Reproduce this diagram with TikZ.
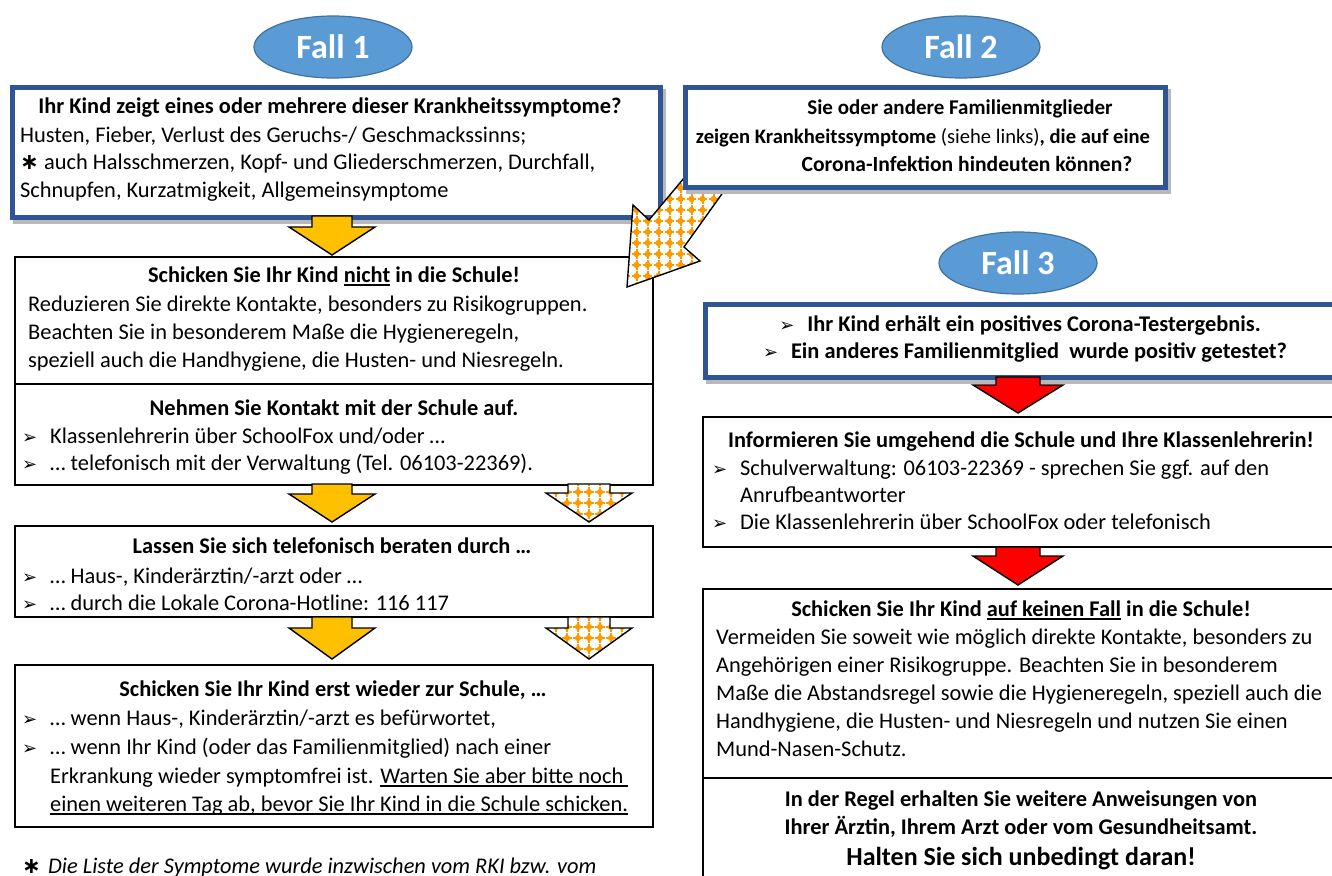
\documentclass[tikz,border=0pt]{standalone}
\usepackage{fontspec}
\setmainfont{Carlito}
\newfontfamily\dejavu{DejaVu Sans}
\usetikzlibrary{shapes.geometric}
\definecolor{bluebord}{RGB}{47,85,151}
\definecolor{ellfill}{RGB}{91,155,213}
\definecolor{elldraw}{RGB}{65,113,156}
\definecolor{gold}{RGB}{255,192,0}
\definecolor{dotorange}{RGB}{255,153,0}
\newcommand\myul[1]{\sbox0{#1}\rlap{\rule[-3.8pt]{\wd0}{1.5pt}}\usebox0}
\newcommand\bul{\makebox[28pt][l]{\dejavu\fontsize{18}{18}\selectfont ➢}}
\newcommand\mystar{{\dejavu\bfseries ∗}}
\tikzset{
  txt/.style={font=\fontsize{22.4}{28}\selectfont, inner sep=0, anchor=base west},
  ttl/.style={font=\fontsize{22.4}{28}\selectfont\bfseries, inner sep=0, anchor=base},
  ctr/.style={font=\fontsize{22.4}{28}\selectfont, inner sep=0, anchor=base},
  plainbox/.style={draw=black, line width=1.6, fill=white, anchor=north west, inner sep=0},
  bluebox/.style={draw=bluebord, line width=4.5, fill=white, anchor=north west, inner sep=0,
    preaction={draw=black!28, fill=black!28, line width=4.5, transform canvas={xshift=3pt,yshift=-4pt}}},
  fallell/.style={ellipse, draw=elldraw, line width=1.2, fill=ellfill, text=white,
    font=\fontsize{34}{34}\selectfont\bfseries, minimum width=158, minimum height=62, inner sep=0},
  yarrow/.style={draw=black, line width=1.4, fill=gold},
  rarrow/.style={draw=black, line width=1.4, fill=red},
  checker/.style={draw=black, line width=1.4, fill=white,
    path picture={\begin{scope}[shift={(path picture bounding box.center)}]
      \foreach \i in {-7,...,7}{\foreach \j in {-7,...,7}{
        \fill[dotorange] (\i*11,\j*11) circle (3.1);
        \fill[dotorange] (\i*11-4.8,\j*11-1) rectangle (\i*11+4.8,\j*11+1);
        \fill[dotorange] (\i*11-1,\j*11-4.8) rectangle (\i*11+1,\j*11+4.8);}}
      \end{scope}}},
  pics/darrow/.style n args={4}{code={\path[pic actions] (-#1,0) -- (#1,0) -- (#1,#3) -- (#2,#3) -- (0,#4) -- (-#2,#3) -- (-#1,#3) -- cycle;}}
}
\begin{document}
\begin{tikzpicture}[x=1pt,y=-1pt]
\path[use as bounding box] (0,0) rectangle (1332,875);
\clip (0,0) rectangle (1332,875);
\fill[white] (0,0) rectangle (1332,875);

% ellipses
\node[fallell] (f1) at (333,47) {Fall 1};
\node[fallell] (f2) at (961,47) {Fall 2};
\node[fallell] (f3) at (1018,263) {Fall 3};

% left column boxes
\node[bluebox, minimum width=648, minimum height=130] (b1) at (10,85) {};
\node[plainbox, minimum width=638, minimum height=127] (b3) at (14,256) {};
\node[plainbox, minimum width=638, minimum height=101] (b4) at (14,383) {};
\node[plainbox, minimum width=638, minimum height=91] (b5) at (14,525) {};
\node[plainbox, minimum width=638, minimum height=162] (b6) at (14,664) {};

% right column boxes
\node[bluebox, minimum width=642, minimum height=73] (b7) at (703,302) {};
\node[plainbox, minimum width=643, minimum height=130] (b8) at (702,416) {};
\node[plainbox, minimum width=643, minimum height=189] (b9) at (702,588) {};
\node[plainbox, minimum width=643, minimum height=113] (b10) at (702,777) {};

% block arrows
\pic[yarrow] at (332,216) {darrow={20}{43}{11}{39}};
\pic[yarrow] at (332,484) {darrow={20}{43}{10}{38}};
\pic[yarrow] at (332,617) {darrow={20}{43}{11}{42}};
\pic[checker] at (589,484) {darrow={21}{43}{9}{38}};
\pic[checker] at (589,617) {darrow={21}{43}{11}{42}};
\pic[rarrow] at (1018,377) {darrow={22}{45}{8}{36}};
\pic[rarrow] at (1018,547) {darrow={22}{45}{9}{38}};

% big diagonal arrow
\draw[checker, line join=miter] (684,178) -- (734,177) -- (684,247) -- (700,261) -- (627,287) -- (633,205) -- (649,220) -- cycle;

% Fall 2 box
\node[bluebox, minimum width=480, minimum height=100] (b2) at (683,85) {};

% texts box 1
\node[ttl] (t1a) at (330,113) {Ihr Kind zeigt eines oder mehrere dieser Krankheitssymptome?};
\node[txt] (t1b) at (20,142) {Husten, Fieber, Verlust des Geruchs-/ Geschmackssinns;};
\node[txt] (t1c) at (20,169) {\makebox[24pt][l]{\mystar}auch Halsschmerzen, Kopf- und Gliederschmerzen, Durchfall,};
\node[txt] (t1d) at (20,197) {Schnupfen, Kurzatmigkeit, Allgemeinsymptome};

% texts box 2
\node[ttl, font=\fontsize{21}{28}\selectfont\bfseries] (t2a) at (960,114) {Sie oder andere Familienmitglieder};
\node[ctr, font=\fontsize{20.6}{28}\selectfont] (t2b) at (923,143) {\textbf{zeigen Krankheitssymptome} (siehe links)\textbf{, die auf eine}};
\node[ttl, font=\fontsize{21.6}{28}\selectfont\bfseries] (t2c) at (967,171) {Corona-Infektion hindeuten können?};

% box 3
\node[ttl] (t3a) at (334,282) {Schicken Sie Ihr Kind \myul{nicht} in die Schule!};
\node[txt] (t3b) at (28,311) {Reduzieren Sie direkte Kontakte, besonders zu Risikogruppen.};
\node[txt] (t3c) at (28,339) {Beachten Sie in besonderem Maße die Hygieneregeln,};
\node[txt] (t3d) at (28,367) {speziell auch die Handhygiene, die Husten- und Niesregeln.};

% box 4
\node[ttl] (t4a) at (334,415) {Nehmen Sie Kontakt mit der Schule auf.};
\node[txt] (t4b) at (22,443) {\bul Klassenlehrerin über SchoolFox und/oder …};
\node[txt] (t4c) at (22,470) {\bul … telefonisch mit der Verwaltung (Tel. 06103-22369).};

% box 5
\node[ttl] (t5a) at (332,553) {Lassen Sie sich telefonisch beraten durch …};
\node[txt] (t5b) at (22,583) {\bul … Haus-, Kinderärztin/-arzt oder …};
\node[txt] (t5c) at (22,610) {\bul … durch die Lokale Corona-Hotline: 116 117};

% box 6
\node[ttl] (t6a) at (333,696) {Schicken Sie Ihr Kind erst wieder zur Schule, …};
\node[txt] (t6b) at (22,725) {\bul … wenn Haus-, Kinderärztin/-arzt es befürwortet,};
\node[txt] (t6c) at (22,754) {\bul … wenn Ihr Kind (oder das Familienmitglied) nach einer};
\node[txt] (t6d) at (50,783) {Erkrankung wieder symptomfrei ist. \myul{Warten Sie aber bitte noch\ }};
\node[txt] (t6e) at (50,811) {\myul{einen weiteren Tag ab, bevor Sie Ihr Kind in die Schule schicken.}};

% footnote
\node[txt, font=\fontsize{22.4}{28}\selectfont\itshape] (fn) at (22,873) {\makebox[26pt][l]{\upshape\mystar}Die Liste der Symptome wurde inzwischen vom RKI bzw. vom};

% box 7
\node[ttl] (t7a) at (1020,331) {\bul Ihr Kind erhält ein positives Corona-Testergebnis.};
\node[ttl] (t7b) at (1025,358) {\bul Ein anderes Familienmitglied\ \ wurde positiv getestet?};

% box 8
\node[ttl] (t8a) at (1021,447) {Informieren Sie umgehend die Schule und Ihre Klassenlehrerin!};
\node[txt] (t8b) at (712,475) {\bul Schulverwaltung: 06103-22369 - sprechen Sie ggf. auf den};
\node[txt] (t8c) at (740,502) {Anrufbeantworter};
\node[txt] (t8d) at (712,529) {\bul Die Klassenlehrerin über SchoolFox oder telefonisch};

% box 9
\node[ttl] (t9a) at (1021,616) {Schicken Sie Ihr Kind \myul{auf keinen Fall} in die Schule!};
\node[txt] (t9b) at (716,644) {Vermeiden Sie soweit wie möglich direkte Kontakte, besonders zu};
\node[txt] (t9c) at (716,672) {Angehörigen einer Risikogruppe. Beachten Sie in besonderem};
\node[txt] (t9d) at (716,700) {Maße die Abstandsregel sowie die Hygieneregeln, speziell auch die};
\node[txt] (t9e) at (716,728) {Handhygiene, die Husten- und Niesregeln und nutzen Sie einen};
\node[txt] (t9f) at (716,756) {Mund-Nasen-Schutz.};

% box 10
\node[ttl] (t10a) at (1021,806) {In der Regel erhalten Sie weitere Anweisungen von};
\node[ttl] (t10b) at (1021,834) {Ihrer Ärztin, Ihrem Arzt oder vom Gesundheitsamt.};
\node[ttl, font=\fontsize{26}{28}\selectfont\bfseries] (t10c) at (1021,865) {Halten Sie sich unbedingt daran!};
\end{tikzpicture}
\end{document}
